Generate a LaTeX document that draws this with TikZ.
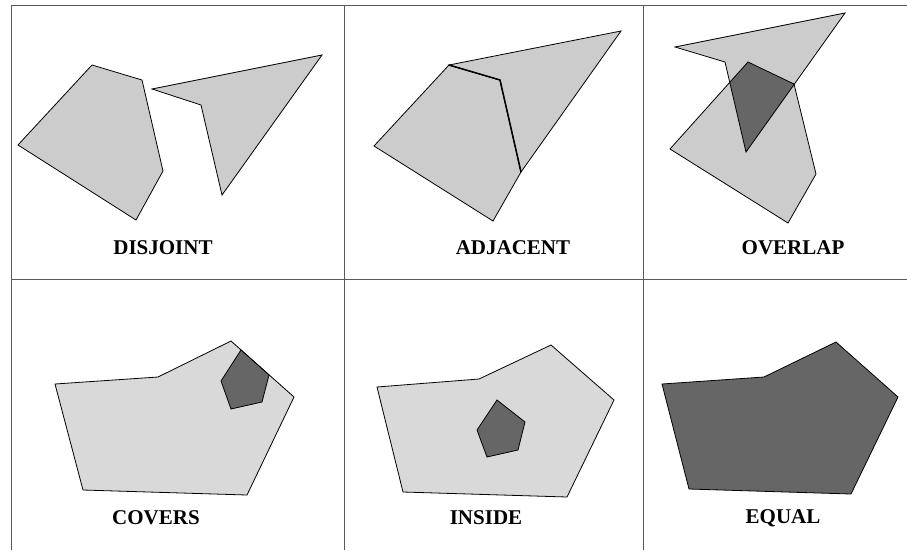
\documentclass[tikz,border=0pt]{standalone}
\usepackage{fontspec}
\setmainfont{Liberation Serif}
\definecolor{lightA}{HTML}{CCCCCC}
\definecolor{lightB}{HTML}{D9D9D9}
\definecolor{darkR}{HTML}{666666}

\begin{document}
\begin{tikzpicture}[x=1pt,y=-1pt,
  grid/.style={draw=black!65,line width=0.9pt},
  region/.style={draw=black,line width=0.8pt,line join=miter},
  caption/.style={font=\fontsize{21}{25}\selectfont\bfseries,inner sep=0pt}]
  \useasboundingbox (0,0) rectangle (907,550);
  % table lines
  \draw[grid] (11,5) -- (907,5);
  \draw[grid] (11,279) -- (907,279);
  \draw[grid] (11,5) -- (11,550);
  \draw[grid] (344,5) -- (344,550);
  \draw[grid] (643,5) -- (643,550);
  % disjoint
  \draw[region,fill=lightA] (92,65) -- (142,80) -- (163,171) -- (136,220) -- (18,145) -- cycle;
  \draw[region,fill=lightA] (152,89) -- (322,55) -- (222,195) -- (201,105) -- cycle;
  \node[caption] (disjoint) at (163,248) {DISJOINT};
  % adjacent
  \draw[region,fill=lightA] (449,65) -- (500,80) -- (521,172) -- (493,221) -- (374,146) -- cycle;
  \draw[region,fill=lightA] (449,65) -- (621,31) -- (521,172) -- (500,80) -- cycle;
  \draw[line width=1.5pt,line join=miter] (449,65) -- (500,80) -- (521,172);
  \node[caption] (adjacent) at (513,248) {ADJACENT};
  % overlap
  \fill[lightA] (748,62) -- (794,84) -- (816,174) -- (788,223) -- (670,149) -- cycle;
  \fill[lightA] (675,47) -- (845,13) -- (746,152) -- (725,62) -- cycle;
  \begin{scope}
    \clip (675,47) -- (845,13) -- (746,152) -- (725,62) -- cycle;
    \fill[darkR] (748,62) -- (794,84) -- (816,174) -- (788,223) -- (670,149) -- cycle;
  \end{scope}
  \draw[region] (748,62) -- (794,84) -- (816,174) -- (788,223) -- (670,149) -- cycle;
  \draw[region] (675,47) -- (845,13) -- (746,152) -- (725,62) -- cycle;
  \node[caption] (overlap) at (793,248) {OVERLAP};
  % covers
  \draw[region,fill=lightB] (55,384) -- (158,377) -- (231,341) -- (294,397) -- (247,495) -- (83,490) -- cycle;
  \draw[region,fill=darkR] (241,350) -- (269,375) -- (262,402) -- (231,409) -- (221,381) -- cycle;
  \node[caption] (covers) at (156,518) {COVERS};
  % inside
  \draw[region,fill=lightB] (377,387) -- (479,379) -- (551,345) -- (614,400) -- (567,497) -- (403,492) -- cycle;
  \draw[region,fill=darkR] (497,400) -- (525,422) -- (518,450) -- (487,457) -- (477,430) -- cycle;
  \node[caption] (inside) at (486,518) {INSIDE};
  % equal
  \draw[region,fill=darkR] (662,384) -- (764,377) -- (836,342) -- (898,397) -- (851,494) -- (689,489) -- cycle;
  \node[caption] (equal) at (783,518) {EQUAL};
\end{tikzpicture}
\end{document}
